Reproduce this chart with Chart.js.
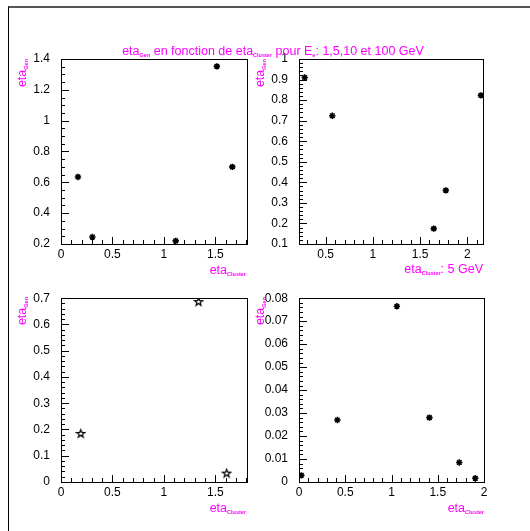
<!DOCTYPE html>
<html><head><meta charset="utf-8">
<script src="https://cdn.jsdelivr.net/npm/chart.js@4/dist/chart.umd.min.js"></script>
<style>
html,body{margin:0;padding:0;background:#fff;width:530px;height:531px;overflow:hidden;position:relative}
canvas{position:absolute}
.frame{position:absolute;left:8px;top:6px;width:700px;height:700px;border-left:1px solid #000;border-top:2px solid #555}
.t{position:absolute;font-family:'Liberation Sans',Arial,sans-serif;font-size:12.5px;color:#ff00ff;white-space:nowrap;line-height:14px}
.s{font-size:5.5px;font-weight:bold;vertical-align:-2px}
.rot{position:absolute;width:0;height:0;transform:rotate(-90deg);transform-origin:0 0}
.rot .t{right:0;top:-7px}
</style>
</head><body>
<div class="frame"></div>
<canvas id="c1"></canvas><canvas id="c2"></canvas><canvas id="c3"></canvas><canvas id="c4"></canvas>
<div class="t" style="left:273px;top:44px;transform:translateX(-50%)">eta<span class="s">Gen</span> en fonction de eta<span class="s">Cluster</span> pour E<span class="s">e</span>: 1,5,10 et 100 GeV</div>
<div class="rot" style="left:22px;top:59px"><div class="t">eta<span class="s">Gen</span></div></div>
<div class="rot" style="left:260px;top:59px"><div class="t">eta<span class="s">Gen</span></div></div>
<div class="rot" style="left:22px;top:297px"><div class="t">eta<span class="s">Gen</span></div></div>
<div class="rot" style="left:260px;top:297px"><div class="t">eta<span class="s">Gen</span></div></div>
<div class="t" style="right:284px;top:263px">eta<span class="s">Cluster</span></div>
<div class="t" style="right:47px;top:262px">eta<span class="s">Cluster</span>: 5 GeV</div>
<div class="t" style="right:284px;top:501px">eta<span class="s">Cluster</span></div>
<div class="t" style="right:46px;top:501px">eta<span class="s">Cluster</span></div>
<script>
// ---- data ----
const p1X = [0.165, 0.305, 1.115, 1.515, 1.665];
const p1Y = [0.635, 0.245, 0.22, 1.352, 0.70];
const p2X = [0.277, 0.57, 1.645, 1.773, 2.145];
const p2Y = [0.91, 0.724, 0.175, 0.361, 0.823];
const p3X = [0.192, 1.337, 1.61];
const p3Y = [0.185, 0.687, 0.034];
const p4X = [0.025, 0.415, 1.058, 1.41, 1.733, 1.906];
const p4Y = [0.0029, 0.027, 0.0765, 0.028, 0.0085, 0.0016];

// ---- tick values and labels ----
const x1Ticks = [0, 0.5, 1, 1.5];           const x1Labels = ['0','0.5','1','1.5'];
const y1Ticks = [0.2,0.4,0.6,0.8,1,1.2,1.4]; const y1Labels = ['0.2','0.4','0.6','0.8','1','1.2','1.4'];
const x2Ticks = [0.5, 1, 1.5, 2];           const x2Labels = ['0.5','1','1.5','2'];
const y2Ticks = [0.1,0.2,0.3,0.4,0.5,0.6,0.7,0.8,0.9,1];
const y2Labels = ['0.1','0.2','0.3','0.4','0.5','0.6','0.7','0.8','0.9','1'];
const x3Ticks = [0, 0.5, 1, 1.5];           const x3Labels = ['0','0.5','1','1.5'];
const y3Ticks = [0,0.1,0.2,0.3,0.4,0.5,0.6,0.7];
const y3Labels = ['0','0.1','0.2','0.3','0.4','0.5','0.6','0.7'];
const x4Ticks = [0, 0.5, 1, 1.5, 2];        const x4Labels = ['0','0.5','1','1.5','2'];
const y4Ticks = [0,0.01,0.02,0.03,0.04,0.05,0.06,0.07,0.08];
const y4Labels = ['0','0.01','0.02','0.03','0.04','0.05','0.06','0.07','0.08'];

// open star marker
function openStar(){
  const c = document.createElement('canvas'); c.width = 11; c.height = 11;
  const g = c.getContext('2d'); g.strokeStyle = '#000'; g.lineWidth = 1.2;
  g.beginPath();
  for (let i = 0; i < 10; i++) {
    const r = i % 2 ? 1.7 : 4.2;
    const a = -Math.PI/2 + i*Math.PI/5;
    const px = 5.5 + r*Math.cos(a), py = 5.9 + r*Math.sin(a);
    i ? g.lineTo(px, py) : g.moveTo(px, py);
  }
  g.closePath(); g.stroke();
  return c;
}

const tickCfg = {};
const rootTicks = {
  id: 'rootTicks',
  afterDraw(chart) {
    const o = tickCfg[chart.canvas.id];
    const ctx = chart.ctx, ca = chart.chartArea, sx = chart.scales.x, sy = chart.scales.y;
    const L = Math.round(ca.left), T = Math.round(ca.top);
    const R = Math.round(ca.right), B = Math.round(ca.bottom);
    ctx.save();
    ctx.fillStyle = '#000';
    // frame
    ctx.fillRect(L, T, R - L + 1, 1);
    ctx.fillRect(L, B, R - L + 1, 1);
    ctx.fillRect(L, T, 1, B - T + 1);
    ctx.fillRect(R, T, 1, B - T + 1);
    // x ticks, pointing up from the bottom axis
    const nx0 = Math.ceil(sx.min / o.xStep - 1e-6), nx1 = Math.floor(sx.max / o.xStep + 1e-6);
    for (let k = nx0; k <= nx1; k++) {
      const v = k * o.xStep;
      const major = o.xMaj.some(m => Math.abs(m - v) < o.xStep * 1e-3);
      const len = major ? 7 : 4;
      const px = Math.round(sx.getPixelForValue(v));
      ctx.fillRect(px, B - len, 1, len);
    }
    // y ticks, pointing right from the left axis
    const ny0 = Math.ceil(sy.min / o.yStep - 1e-6), ny1 = Math.floor(sy.max / o.yStep + 1e-6);
    for (let k = ny0; k <= ny1; k++) {
      const v = k * o.yStep;
      const major = o.yMaj.some(m => Math.abs(m - v) < o.yStep * 1e-3);
      const len = major ? 8 : 4;
      const py = Math.round(sy.getPixelForValue(v));
      ctx.fillRect(L, py, len, 1);
    }
    ctx.restore();
  }
};

const tickFont = {family: "'Liberation Sans',Arial,sans-serif", size: 12};

function panel(id, box, area, dx, dy, xr, yr, xt, xl, yt, yl, xStep, yStep, marker) {
  const cv = document.getElementById(id);
  cv.width = box.w; cv.height = box.h;
  cv.style.left = box.x + 'px'; cv.style.top = box.y + 'px';
  tickCfg[id] = {xStep: xStep, yStep: yStep, xMaj: xt, yMaj: yt};
  const XH = 20;
  const ds = {
    data: dx.map((x, i) => ({x: x, y: dy[i]})),
    borderColor: '#000', backgroundColor: '#000'
  };
  if (marker === 'open') { ds.pointStyle = openStar(); ds.radius = 5; }
  else { ds.pointStyle = 'star'; ds.radius = 3.2; ds.borderWidth = 1.6; }
  new Chart(cv, {
    type: 'scatter',
    data: {datasets: [ds]},
    options: {
      responsive: false, animation: false, events: [],
      layout: {padding: {left: 0, top: area.T - box.y, right: box.x + box.w - area.R, bottom: box.y + box.h - area.B - XH}},
      plugins: {legend: {display: false}, tooltip: {enabled: false}},
      scales: {
        x: {type: 'linear', min: xr[0], max: xr[1],
          afterFit: s => { s.height = XH; },
          afterBuildTicks: s => { s.ticks = xt.map(v => ({value: v})); },
          ticks: {callback: (v, i) => xl[i], padding: 3, font: tickFont, color: '#000', maxRotation: 0, autoSkip: false},
          grid: {display: false, drawTicks: false}, border: {display: false}},
        y: {type: 'linear', min: yr[0], max: yr[1],
          afterFit: s => { s.width = area.L - box.x; },
          afterBuildTicks: s => { s.ticks = yt.map(v => ({value: v})); },
          ticks: {callback: (v, i) => yl[i], padding: 11, font: tickFont, color: '#000', autoSkip: false},
          grid: {display: false, drawTicks: false}, border: {display: false}}
      }
    },
    plugins: [rootTicks]
  });
}

panel('c1', {x:0, y:40, w:255, h:240}, {L:61, T:59, R:247, B:244}, p1X, p1Y, [0, 1.808], [0.2, 1.4], x1Ticks, x1Labels, y1Ticks, y1Labels, 0.1, 0.05, 'ast');
panel('c2', {x:255, y:40, w:275, h:240}, {L:299, T:59, R:483, B:244}, p2X, p2Y, [0.217, 2.167], [0.1, 1.0], x2Ticks, x2Labels, y2Ticks, y2Labels, 0.1, 0.02, 'ast');
panel('c3', {x:0, y:280, w:255, h:240}, {L:61, T:297, R:247, B:482}, p3X, p3Y, [0, 1.808], [0, 0.7], x3Ticks, x3Labels, y3Ticks, y3Labels, 0.1, 0.02, 'open');
panel('c4', {x:255, y:280, w:275, h:240}, {L:299, T:297, R:484, B:482}, p4X, p4Y, [0, 2.0], [0, 0.08], x4Ticks, x4Labels, y4Ticks, y4Labels, 0.1, 0.002, 'ast');
</script>
</body></html>
